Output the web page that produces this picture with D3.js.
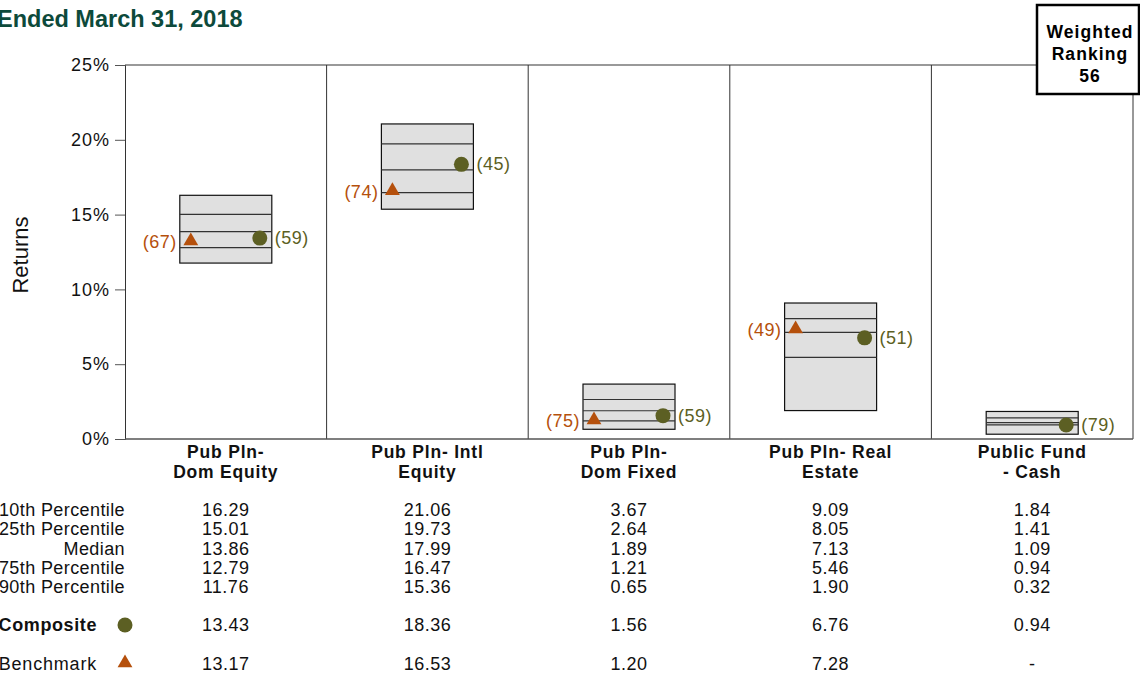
<!DOCTYPE html>
<html>
<head>
<meta charset="utf-8">
<script src="https://cdn.jsdelivr.net/npm/d3@7"></script>
<style>
  body { margin: 0; background: #fff; }
  svg { font-family: Arial, "Liberation Sans", sans-serif; }
</style>
</head>
<body>
<div id="chart"></div>
<script>
// categories (two-line labels)
var categories = ["Pub Pln- Dom Equity", "Pub Pln- Intl Equity", "Pub Pln- Dom Fixed", "Pub Pln- Real Estate", "Public Fund - Cash"];
var catLines = [["Pub Pln-", "Dom Equity"], ["Pub Pln- Intl", "Equity"], ["Pub Pln-", "Dom Fixed"], ["Pub Pln- Real", "Estate"], ["Public Fund", "- Cash"]];

var p10 = [16.29, 21.06, 3.67, 9.09, 1.84];
var p25 = [15.01, 19.73, 2.64, 8.05, 1.41];
var median = [13.86, 17.99, 1.89, 7.13, 1.09];
var p75 = [12.79, 16.47, 1.21, 5.46, 0.94];
var p90 = [11.76, 15.36, 0.65, 1.90, 0.32];

var composite = [13.43, 18.36, 1.56, 6.76, 0.94];
var compositeRank = [59, 45, 59, 51, 79];
var benchmark = [13.17, 16.53, 1.20, 7.28, null];
var benchmarkRank = [67, 74, 75, 49, null];

var yTicks = [0, 5, 10, 15, 20, 25];
var rowLabels = ["10th Percentile", "25th Percentile", "Median", "75th Percentile", "90th Percentile"];

var W = 1140, H = 674;
var plotL = 125, plotR = 1133, plotT = 65, plotB = 439;
var boxW = 92;
var compColor = "#5c5f23", benchColor = "#b5500c";
var fs = 18;

var svg = d3.select("#chart").append("svg")
    .attr("width", W).attr("height", H);

var x = d3.scaleBand().domain(categories).range([plotL, plotR]).padding(0);
var y = d3.scaleLinear().domain([0, 25]).range([plotB, plotT]);

// title (cropped in original)
svg.append("text").attr("x", -3).attr("y", 27)
    .attr("font-size", 23.5).attr("font-weight", "bold").attr("fill", "#0d4a3b")
    .text("Ended March 31, 2018");

// frame
svg.append("line").attr("x1", plotL).attr("x2", 1037).attr("y1", plotT).attr("y2", plotT)
    .attr("stroke", "#777").attr("stroke-width", 1.5);
categories.forEach(function (c, i) {
    svg.append("line").attr("x1", x(c) + x.bandwidth()).attr("x2", x(c) + x.bandwidth())
        .attr("y1", i === categories.length - 1 ? 95 : plotT).attr("y2", plotB)
        .attr("stroke", "#333").attr("stroke-width", 1);
});

// y axis
var yAxis = d3.axisLeft(y).tickValues(yTicks).tickFormat(function (d) { return d + "%"; })
    .tickSize(10).tickPadding(5);
var ga = svg.append("g").attr("transform", "translate(" + plotL + ",0)").call(yAxis);
ga.select(".domain").attr("stroke", "#333");
ga.selectAll(".tick line").attr("stroke", "#555");
ga.selectAll("text").attr("font-size", fs).attr("fill", "#111").attr("letter-spacing", 1)
    .attr("font-family", "Arial, 'Liberation Sans', sans-serif");

// x axis baseline
svg.append("line").attr("x1", plotL).attr("x2", plotR).attr("y1", plotB).attr("y2", plotB)
    .attr("stroke", "#555").attr("stroke-width", 1.5);

svg.append("text").attr("transform", "translate(28,255) rotate(-90)")
    .attr("text-anchor", "middle").attr("font-size", 22).attr("fill", "#111").text("Returns");

// boxes
var cx = function (i) { return x(categories[i]) + x.bandwidth() / 2; };
var triangle = d3.symbol().type(d3.symbolTriangle).size(95);
var g = svg.append("g");
categories.forEach(function (c, i) {
    var bx = cx(i) - boxW / 2;
    g.append("rect").attr("x", bx).attr("y", y(p10[i])).attr("width", boxW)
        .attr("height", y(p90[i]) - y(p10[i]))
        .attr("fill", "#e0e0e0").attr("stroke", "#111").attr("stroke-width", 1.2);
    [p25[i], median[i], p75[i]].forEach(function (v) {
        g.append("line").attr("x1", bx).attr("x2", bx + boxW).attr("y1", y(v)).attr("y2", y(v))
            .attr("stroke", "#333").attr("stroke-width", 1.2);
    });
    // composite
    var ccx = bx + boxW - 12;
    g.append("circle").attr("cx", ccx).attr("cy", y(composite[i])).attr("r", 7.5).attr("fill", compColor);
    g.append("text").attr("x", ccx + 15).attr("y", y(composite[i]) + 6)
        .attr("font-size", fs).attr("letter-spacing", 0.5).attr("fill", compColor)
        .text("(" + compositeRank[i] + ")");
    // benchmark
    if (benchmark[i] !== null) {
        var tx = bx + 11;
        g.append("path").attr("d", triangle())
            .attr("transform", "translate(" + tx + "," + (y(benchmark[i]) - 1) + ")")
            .attr("fill", benchColor);
        g.append("text").attr("x", tx - 14).attr("y", y(benchmark[i]) + 6)
            .attr("text-anchor", "end").attr("font-size", fs).attr("letter-spacing", 0.5)
            .attr("fill", benchColor)
            .text("(" + benchmarkRank[i] + ")");
    }
    // category label
    catLines[i].forEach(function (t, k) {
        svg.append("text").attr("x", cx(i)).attr("y", 458 + k * 20)
            .attr("text-anchor", "middle").attr("font-size", 17.5).attr("font-weight", "bold")
            .attr("letter-spacing", 0.8).attr("fill", "#111").text(t);
    });
});

// weighted ranking box
svg.append("rect").attr("x", 1037).attr("y", 5).attr("width", 102).attr("height", 89)
    .attr("fill", "#fff").attr("stroke", "#000").attr("stroke-width", 2.5);
["Weighted", "Ranking", "56"].forEach(function (t, k) {
    svg.append("text").attr("x", 1090).attr("y", 38 + k * 22)
        .attr("text-anchor", "middle").attr("font-size", 17.5).attr("font-weight", "bold")
        .attr("letter-spacing", 1.1).attr("fill", "#000").text(t);
});

// table
var rowY = [516, 535, 555, 574, 593];
var series = [p10, p25, median, p75, p90];
rowLabels.forEach(function (lab, r) {
    svg.append("text").attr("x", 125).attr("y", rowY[r]).attr("text-anchor", "end")
        .attr("font-size", fs).attr("letter-spacing", 0.4).attr("fill", "#111").text(lab);
    series[r].forEach(function (v, i) {
        svg.append("text").attr("x", cx(i)).attr("y", rowY[r]).attr("text-anchor", "middle")
            .attr("font-size", fs).attr("letter-spacing", 0.5).attr("fill", "#111").text(v.toFixed(2));
    });
});

svg.append("text").attr("x", 97).attr("y", 631).attr("text-anchor", "end")
    .attr("font-size", fs).attr("font-weight", "bold").attr("letter-spacing", 0.6)
    .attr("fill", "#111").text("Composite");
svg.append("circle").attr("cx", 125).attr("cy", 625).attr("r", 7.5).attr("fill", compColor);
composite.forEach(function (v, i) {
    svg.append("text").attr("x", cx(i)).attr("y", 631).attr("text-anchor", "middle")
        .attr("font-size", fs).attr("letter-spacing", 0.5).attr("fill", "#111").text(v.toFixed(2));
});

svg.append("text").attr("x", 97).attr("y", 670).attr("text-anchor", "end")
    .attr("font-size", fs).attr("letter-spacing", 0.8).attr("fill", "#111").text("Benchmark");
svg.append("path").attr("d", triangle())
    .attr("transform", "translate(125,663)").attr("fill", benchColor);
benchmark.forEach(function (v, i) {
    svg.append("text").attr("x", cx(i)).attr("y", 670).attr("text-anchor", "middle")
        .attr("font-size", fs).attr("letter-spacing", 0.5).attr("fill", "#111").text(v === null ? "-" : v.toFixed(2));
});
</script>
</body>
</html>
